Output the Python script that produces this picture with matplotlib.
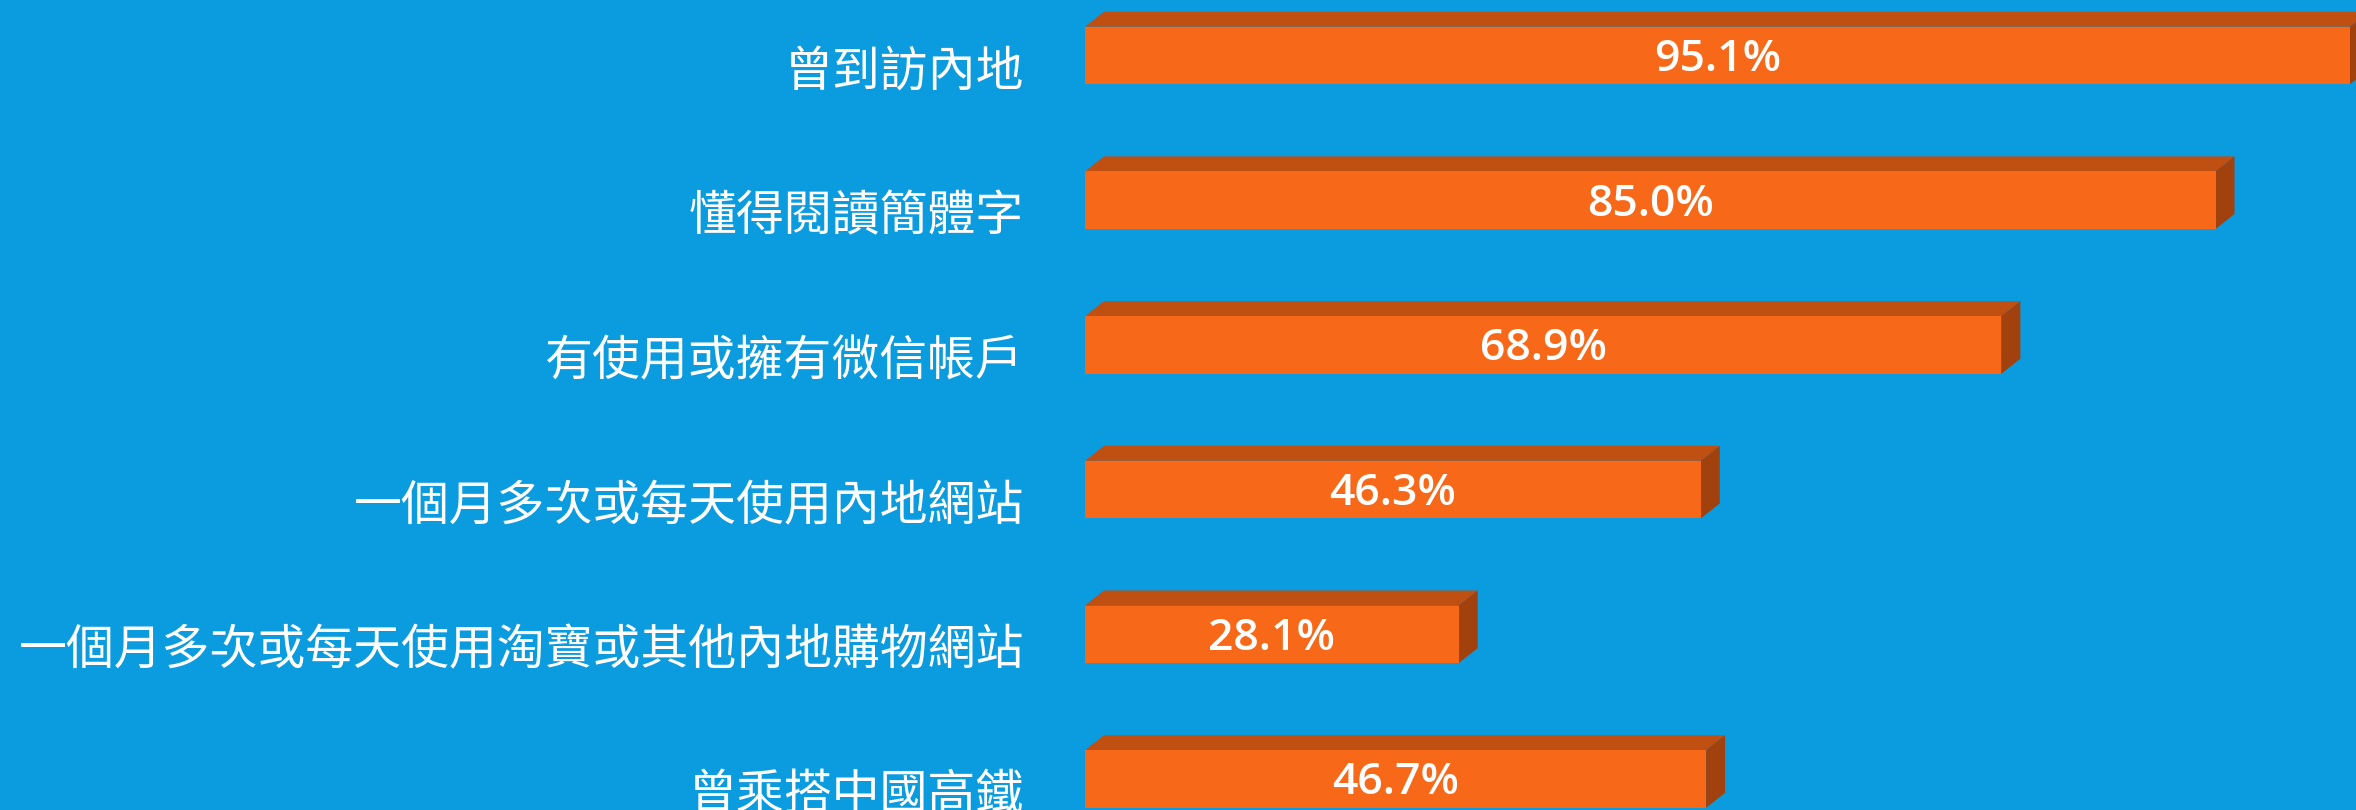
import matplotlib
matplotlib.use("Agg")
import matplotlib.pyplot as plt
from matplotlib.patches import Polygon
from matplotlib.transforms import ScaledTranslation

categories = ["曾到訪內地", "懂得閱讀簡體字", "有使用或擁有微信帳戶",
              "一個月多次或每天使用內地網站",
              "一個月多次或每天使用淘寶或其他內地購物網站", "曾乘搭中國高鐵"]
values = [95.1, 85.0, 68.9, 46.3, 28.1, 46.7]
value_labels = ["95.1%", "85.0%", "68.9%", "46.3%", "28.1%", "46.7%"]

bg = "#0B9BDF"
front = "#F76819"
top = "#BF5011"
side = "#A1410E"

plt.rcParams["font.family"] = ["Noto Sans CJK TC", "DejaVu Sans"]

fig = plt.figure(figsize=(23.56, 8.10), dpi=100, facecolor=bg)
ax = fig.add_axes([1085 / 2356, 0, 1 - 1085 / 2356, 1])
ax.set_facecolor(bg)

px_x = 13.3      # pixels per percent
px_y = 144.7     # pixels per category
ax.set_xlim(0, (2356 - 1085) / px_x)
ax.set_ylim((810 - 55.5) / px_y, -55.5 / px_y)

h = 57.6 / px_y
dx = 19 / px_x
dy = 15 / px_y

ypos = list(range(len(categories)))
ax.barh(ypos, values, height=h, color=front, zorder=3)

down = ScaledTranslation(0, -4 / 100, fig.dpi_scale_trans)
for y, v, lab in zip(ypos, values, value_labels):
    yt = y - h / 2
    yb = y + h / 2
    ax.add_patch(Polygon([(0, yt), (v, yt), (v + dx, yt - dy), (dx, yt - dy)],
                         closed=True, facecolor=top, edgecolor="none", zorder=2))
    ax.add_patch(Polygon([(v, yt), (v + dx, yt - dy), (v + dx, yb - dy), (v, yb)],
                         closed=True, facecolor=side, edgecolor="none", zorder=2))
    ax.text(v / 2, y, lab, ha="center", va="center", color="white",
            fontsize=32, fontweight="semibold", family=["Open Sans", "DejaVu Sans"],
            zorder=4, transform=ax.transData + down)

ax.set_yticks(ypos)
ax.set_yticklabels(categories, fontsize=34.5, color="white")
ax.tick_params(axis="y", length=0, pad=44)
shift = ScaledTranslation(0, -11 / 100, fig.dpi_scale_trans)
for t in ax.get_yticklabels():
    t.set_transform(t.get_transform() + shift)
ax.set_xticks([])
for s in ax.spines.values():
    s.set_visible(False)

fig.savefig("out.png", dpi=100, facecolor=bg)
